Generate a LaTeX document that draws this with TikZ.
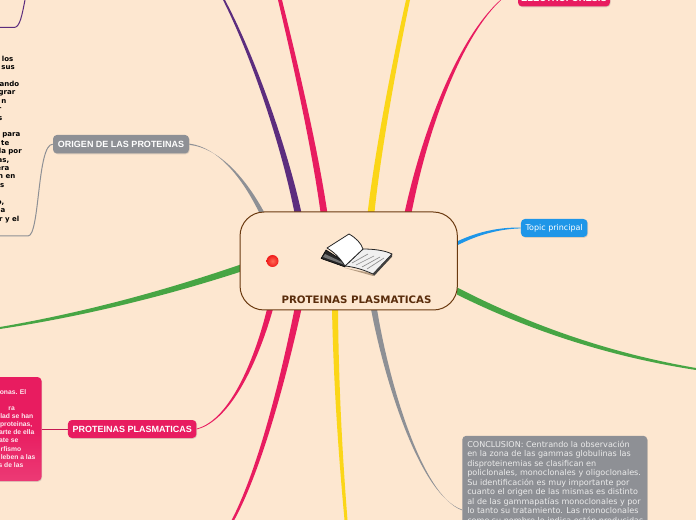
\documentclass[tikz,border=0pt]{standalone}
\usepackage{fontspec}
\usetikzlibrary{calc,shadows}
\newfontfamily\djfont{DejaVu Sans}
\newfontfamily\libfont{Liberation Sans}
\definecolor{bg}{HTML}{FDE7D0}
\definecolor{mpink}{HTML}{E81C60}
\definecolor{mpinklow}{HTML}{EC3A75}
\definecolor{mpurple}{HTML}{5C2D7E}
\definecolor{myellow}{HTML}{FBD618}
\definecolor{mgray}{HTML}{8E9095}
\definecolor{mgreen}{HTML}{47A544}
\definecolor{mblue}{HTML}{1E96E8}
\definecolor{hubline}{HTML}{6B3A10}
\definecolor{hubtext}{HTML}{5A2D0C}
\definecolor{dotin}{HTML}{FF6A55}
\definecolor{dotout}{HTML}{F01A1A}
\newcommand\taper[7]{\fill[#1] ($(#2)+(#6)$) .. controls ($(#3)+0.7*(#6)+0.3*(#7)$) and ($(#4)+0.3*(#6)+0.7*(#7)$) .. ($(#5)+(#7)$) -- ($(#5)-(#7)$) .. controls ($(#4)-0.3*(#6)-0.7*(#7)$) and ($(#3)-0.7*(#6)-0.3*(#7)$) .. ($(#2)-(#6)$) -- cycle;}
\newcommand\rl[2]{\makebox[#1pt][r]{#2}}
\tikzset{
  topic/.style={rounded corners=3pt,inner sep=0pt,text=white,font={\libfont\bfseries\fontsize{6.75}{8}\selectfont},
    drop shadow={shadow xshift=0.5pt,shadow yshift=-0.6pt,opacity=.25}},
  clipped/.style={inner sep=0pt,anchor=north west,align=left},
}
\begin{document}
\begin{tikzpicture}[x=0.75pt,y=-0.75pt]
\clip (0,0) rectangle (696,520);
\fill[bg] (0,0) rectangle (696,520);

% named ends
\node[topic,fill=mgray,minimum width=102pt,minimum height=13.9pt] (origen) at (121,144.2) {ORIGEN DE LAS PROTEINAS};
\node[topic,fill=mpink,minimum width=96.4pt,minimum height=13.5pt] (plasma) at (132.2,429) {PROTEINAS PLASMATICAS};
\node[topic,fill=mblue,minimum width=49.9pt,minimum height=13.5pt,font={\djfont\fontsize{6}{8}\selectfont}] (tema) at (554.2,228) {Topic principal};
\node[topic,fill=mpink,minimum width=69pt,minimum height=13.9pt,text depth=0pt] (electro) at (564,-2.8) {};
\node[inner sep=0pt,anchor=base,text=white,font={\libfont\bfseries\fontsize{7}{8}\selectfont}] (electrotext) at (564,2) {ELECTROFORESIS};
\node[topic,top color=mpink,bottom color=mpinklow,middle color=mpink,minimum width=105.75pt,minimum height=78pt] (pinkbox) at (-29,429) {};
\node[topic,fill=mgray,minimum width=138.75pt,minimum height=112pt,anchor=north west] (concl) at (462,435.5) {};

\coordinate (s1) at (298,213); \coordinate (e1) at (224,0);
\coordinate (s2) at (324,213); \coordinate (e2) at (280,0);
\coordinate (s3) at (371,213); \coordinate (e3) at (408,0);
\coordinate (s4) at (408,213); \coordinate (e4) at (503,-2);
\coordinate (s5) at (262,213);
\coordinate (s6) at (270,309);
\coordinate (s7) at (298,309); \coordinate (e7) at (233,520);
\coordinate (s8) at (335,309); \coordinate (e8) at (346,520);
\coordinate (s9) at (374,309);
\coordinate (s10) at (457,291); \coordinate (e10) at (696,369);
\coordinate (s11) at (241,268); \coordinate (e11) at (0,328);
\coordinate (s12) at (457,243.5);
\coordinate (p0) at (0,27.5);
\coordinate (g0) at (0,236);

% connectors
\taper{mpurple}{s1}{285,150}{255,60}{e1}{3.5,0}{1,0}
\taper{mpink}{s2}{315,150}{297,70}{e2}{3.4,0}{2,0}
\taper{myellow}{s3}{378,150}{395,60}{e3}{3.4,0}{2,0}
\taper{mpink}{s4}{425,130}{460,35}{e4}{3.5,0}{.3,0}
\taper{mgray}{s5}{245,180}{220,148}{origen.east}{2.6,0}{0,.6}
\taper{mpink}{s6}{258,355}{232,420}{plasma.east}{3,0}{0,.4}
\taper{mpink}{s7}{285,370}{262,465}{e7}{3.5,0}{1.3,0}
\taper{myellow}{s8}{336,380}{340,450}{e8}{3,0}{1.5,0}
\taper{mgray}{s9}{386,378}{420,495}{$(concl.west)+(0,-0.5)$}{3,0}{0,.35}
\taper{mgreen}{s10}{530,328}{610,355}{e10}{0,3.6}{0,1}
\taper{mgreen}{s11}{160,295}{80,315}{e11}{0,3.6}{0,1}
\taper{mblue}{s12}{478,233}{500,228}{tema.west}{0,2}{0,.4}
\draw[mgray,line width=.75pt] (origen.west) .. controls (37,144) and (40,236) .. (28,236) -- (g0);
\draw[mpurple,line width=.75pt] (p0) -- (14,27.5) .. controls (20,27.5) and (22,15) .. (25,0);
\draw[mpink!85!black,line width=.75pt] (pinkbox.east) -- (plasma.west);

% hub
\node[draw=hubline,fill=bg,line width=.75pt,rounded corners=18pt,minimum width=163pt,minimum height=73.5pt,inner sep=0pt] (hub) at (348.7,261) {};
\node[inner sep=0pt,anchor=base,text=hubtext,font={\djfont\bfseries\fontsize{7.7}{9}\selectfont}] (hubtext) at (356.5,304) {PROTEINAS PLASMATICAS};

% dot
\shade[inner color=dotin,outer color=dotout] (272.5,261) circle (6);

% book
\fill[brown!70!black!60] (345,268) -- (373,276) -- (392,257) -- (373,273.5) -- cycle;
\fill[black!85,draw=black,line width=.4pt,line join=round] (321,258.5) -- (326,250) -- (345,262) -- (345,267) -- cycle;
\fill[black!55] (323,257) -- (345,265) -- (345,263.5) -- (325,254) -- cycle;
\fill[black!6,draw=black!85,line width=.6pt,line join=round] (345,266) -- (363,249) .. controls (372,249) and (384,250) .. (392,254) -- (373,274) .. controls (364,270) and (355,267) .. (345,266) -- cycle;
\draw[black!45,line width=.5pt] (352,263) -- (368,254) (356,265) -- (374,256) (362,267) -- (380,257) (367,269) -- (384,258);
\fill[black!75] (373,274) -- (392,254) -- (392,256.5) -- (374,276) -- cycle;
\fill[white,draw=black!85,line width=.6pt,line join=round] (327,248) -- (349,234) .. controls (356,238) and (361,243) .. (363,249) -- (345,266) .. controls (340,258) and (334,252) .. (327,248) -- cycle;

% left clipped text
\node[clipped,font={\djfont\bfseries\fontsize{5.25}{6.315}\selectfont},text=black] (lefttext) at (0,55.5) {%
\rl{9.75}{los}\\ \rl{10.9}{sus}\\ ~\\ \rl{14.25}{ando}\\ \rl{11.25}{grar}\\ \rl{4.5}{n}\\ \rl{.75}{r}\\ \rl{1.5}{s}\\ ~\\
\rl{15}{para}\\ \rl{6.75}{te}\\ \rl{16.1}{la por}\\ \rl{6.75}{as,}\\ \rl{6.75}{era}\\ \rl{11.25}{n en}\\ \rl{3}{s}\\ ~\\ \rl{3}{o,}\\ \rl{3.75}{a}\\ \rl{14.25}{r y el}};

% pink box text
\node[clipped,font={\libfont\bfseries\fontsize{5.05}{6.1}\selectfont},text=white!90!mpink] (pinktext) at (0,389) {%
\rl{19.5}{onas. El}\\ ~\\ \rl{10.9}{ra}\\ \rl{24.75}{lad se han}\\ \rl{24}{proteinas,}\\ \rl{25.5}{arte de ella}\\ \rl{13.5}{ate se}\\ \rl{15.75}{rfismo}\\ \rl{26.25}{leben a las}\\ \rl{17.25}{s de las}};

% conclusion text
\node[clipped,font={\djfont\fontsize{6.05}{7.15}\selectfont},text=white!92!black] (concltext) at (467,440.5) {%
CONCLUSION: Centrando la observación\\
en la zona de las gammas globulinas las\\
disproteinemias se clasifican en\\
policlonales, monoclonales y oligoclonales.\\
Su identificación es muy importante por\\
cuanto el origen de las mismas es distinto\\
al de las gammapatías monoclonales y por\\
lo tanto su tratamiento. Las monoclonales\\
como su nombre lo indica están producidas};
\end{tikzpicture}
\end{document}
